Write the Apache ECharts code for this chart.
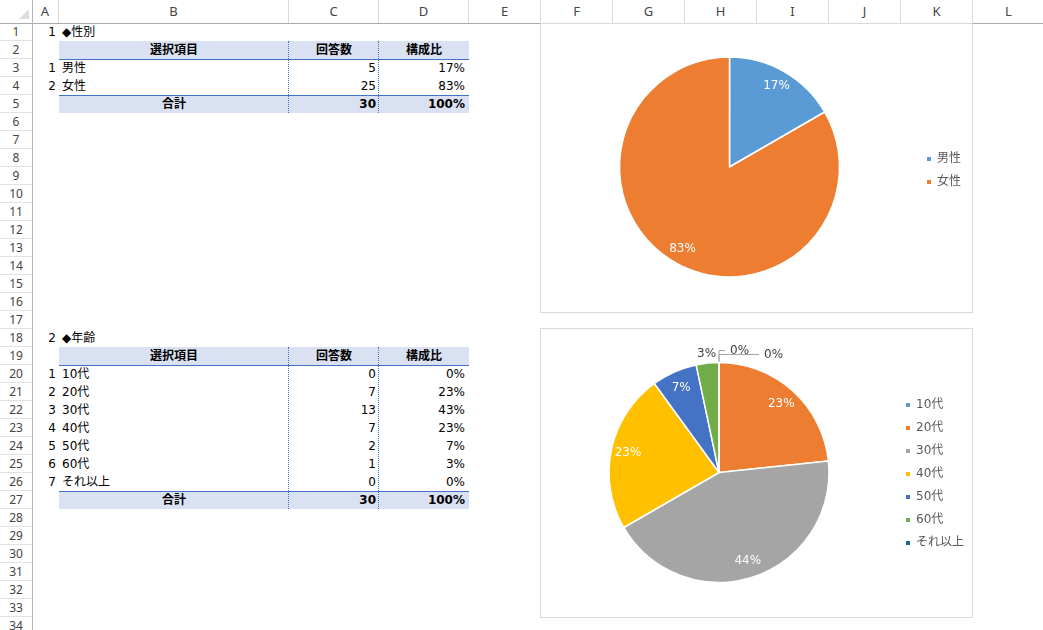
<!DOCTYPE html>
<html>
<head>
<meta charset="utf-8">
<script src="https://cdn.jsdelivr.net/npm/echarts@6/dist/echarts.min.js"></script>
<style>
  html, body { margin:0; padding:0; background:#fff; }
  body { width:1043px; height:630px; position:relative; overflow:hidden;
         font-family:"DejaVu Sans","Noto Sans CJK JP",sans-serif; font-size:12px; color:#000; }
  .abs { position:absolute; box-sizing:border-box; white-space:nowrap; }
  .colh { color:#444; text-align:center; font-family:"Noto Sans","Noto Sans CJK JP",sans-serif; font-size:13px; line-height:23px; height:23px; border-right:1px solid #dadada; top:0; }
  .rowh { color:#444; text-align:center; font-family:"Noto Sans","Noto Sans CJK JP",sans-serif; font-size:12px; line-height:18px; height:18px; left:0; width:32px; border-bottom:1px solid #e1e1e1; }
  .cell { height:18px; line-height:18px; }
  .band { background:#D9E1F2; }
  .chartbox { border:1px solid #d9d9d9; background:#fff; }
</style>
</head>
<body>
<script>
// ---------------- data ----------------
const colLetters = ['A','B','C','D','E','F','G','H','I','J','K','L'];
const rowNumbers = Array.from({length:34}, (_, i) => String(i + 1));
const headerLabels = ['選択項目', '回答数', '構成比'];
const totalLabel = '合計';

const genderTitle = '◆性別';
const genderCategories = ['男性', '女性'];
const genderCounts = [5, 25];

const ageTitle = '◆年齢';
const ageCategories = ['10代', '20代', '30代', '40代', '50代', '60代', 'それ以上'];
const ageCounts = [0, 7, 13, 7, 2, 1, 0];
const ageChartLabels = ['0%', '23%', '44%', '23%', '7%', '3%', '0%'];

const genderColors = ['#5B9BD5', '#ED7D31'];
const ageColors = ['#5B9BD5', '#ED7D31', '#A5A5A5', '#FFC000', '#4472C4', '#70AD47', '#255E91'];

// ---------------- sheet layout ----------------
const colEdges = [32, 59, 289, 379, 469, 541, 613, 685, 757, 829, 901, 973, 1045];
const TOP = 23, RH = 18;
const rowTop = r => TOP + (r - 1) * RH;

function el(cls, style, text) {
  const d = document.createElement('div');
  d.className = 'abs ' + cls;
  Object.assign(d.style, style);
  if (text != null) d.textContent = text;
  document.body.appendChild(d);
  return d;
}

// column headers
colLetters.forEach((c, i) => {
  el('colh', { left: colEdges[i] + 'px', width: (colEdges[i + 1] - colEdges[i]) + 'px' }, c);
});
// corner triangle
el('', { left:'19px', top:'9px', width:'0', height:'0', borderLeft:'10px solid transparent', borderBottom:'10px solid #dcdcdc' });
// row headers
rowNumbers.forEach((n, i) => {
  el('rowh', { top: rowTop(i + 1) + 'px' }, n);
});
el('', { left:'0', top:'23px', width:'1043px', height:'1px', background:'#ababab' });
el('', { left:'32px', top:'0', width:'1px', height:'630px', background:'#b5b5b5' });

function cellText(row, col, text, align, bold) {
  const left = colEdges[col], w = colEdges[col + 1] - colEdges[col];
  const st = { left: left + 'px', top: rowTop(row) + 'px', width: w + 'px', textAlign: align };
  if (align === 'right') st.paddingRight = col === 3 ? '4px' : '3px';
  if (align === 'left') st.paddingLeft = '3px';
  if (bold) st.fontWeight = 'bold';
  el('cell', st, text);
}

function drawTable(startRow, no, title, cats, counts) {
  const total = counts.reduce((a, b) => a + b, 0);
  const nRows = cats.length;
  const hdr = startRow + 1, last = startRow + 1 + nRows + 1;
  el('band', { left:'59px', top: rowTop(hdr) + 'px', width:'410px', height:'18px' });
  el('band', { left:'59px', top: rowTop(last) + 'px', width:'410px', height:'18px' });
  el('', { left:'59px', top: (rowTop(hdr) + 18) + 'px', width:'410px', height:'1px', background:'#4472C4' });
  el('', { left:'59px', top: rowTop(last) + 'px', width:'410px', height:'1px', background:'#4472C4' });
  [288, 378].forEach(x => {
    el('', { left: x + 'px', top: rowTop(hdr) + 'px', width:'1px', height: ((last - hdr + 1) * RH) + 'px', borderLeft:'1px dotted #4472C4' });
  });
  cellText(startRow, 0, String(no), 'right');
  cellText(startRow, 1, title, 'left');
  cellText(hdr, 1, headerLabels[0], 'center', true);
  cellText(hdr, 2, headerLabels[1], 'center', true);
  cellText(hdr, 3, headerLabels[2], 'center', true);
  cats.forEach((c, i) => {
    const r = hdr + 1 + i;
    cellText(r, 0, String(i + 1), 'right');
    cellText(r, 1, c, 'left');
    cellText(r, 2, String(counts[i]), 'right');
    cellText(r, 3, Math.round(counts[i] / total * 100) + '%', 'right');
  });
  cellText(last, 1, totalLabel, 'center', true);
  cellText(last, 2, String(total), 'right', true);
  cellText(last, 3, '100%', 'right', true);
}
drawTable(1, 1, genderTitle, genderCategories, genderCounts);
drawTable(18, 2, ageTitle, ageCategories, ageCounts);

// ---------------- charts ----------------
const box1 = el('chartbox', { left:'540px', top:'23px', width:'433px', height:'290px' });
const box2 = el('chartbox', { left:'540px', top:'328px', width:'433px', height:'290px' });
const c1div = document.createElement('div'); c1div.style.cssText = 'position:absolute;left:0;top:0;width:431px;height:288px;'; box1.appendChild(c1div);
const c2div = document.createElement('div'); c2div.style.cssText = 'position:absolute;left:0;top:0;width:431px;height:288px;'; box2.appendChild(c2div);

const FONT = '"DejaVu Sans", "Noto Sans CJK JP", sans-serif';
const START = 89.99;

function legendOpt(names, left, top) {
  return {
    orient: 'vertical', left: left, top: top, icon: 'rect',
    itemWidth: 6, itemHeight: 6, itemGap: 9, padding: 0,
    textStyle: { color: '#595959', fontSize: 12, lineHeight: 14, fontFamily: FONT },
    data: names
  };
}

// chart 1
const ch1 = echarts.init(c1div, null, { renderer: 'canvas' });
ch1.setOption({
  animation: false,
  textStyle: { fontFamily: FONT },
  legend: legendOpt(genderCategories, 384, 128),
  series: [
    {
      type: 'pie', center: [188.5, 143], radius: 110, startAngle: START, clockwise: true,
      avoidLabelOverlap: false,
      itemStyle: { borderColor: '#fff', borderWidth: 1.5 },
      label: { show: false }, labelLine: { show: false },
      emphasis: { disabled: true },
      data: genderCategories.map((n, i) => ({ name: n, value: genderCounts[i], itemStyle: { color: genderColors[i] } }))
    },
    {
      type: 'pie', silent: true, center: [188.5, 143], radius: [0, 182], startAngle: START, clockwise: true,
      avoidLabelOverlap: false, legendHoverLink: false,
      itemStyle: { color: 'rgba(0,0,0,0)', borderWidth: 0 },
      label: { show: true, position: 'inside', color: '#fff', fontSize: 12, fontFamily: FONT,
               formatter: p => Math.round(p.percent) + '%' },
      labelLine: { show: false },
      emphasis: { disabled: true },
      data: genderCategories.map((n, i) => ({ name: n, value: genderCounts[i] }))
    }
  ]
});

// chart 2
const insideIdx = [1, 2, 3, 4];
const ch2 = echarts.init(c2div, null, { renderer: 'canvas' });
ch2.setOption({
  animation: false,
  textStyle: { fontFamily: FONT },
  legend: legendOpt(ageCategories, 363, 69),
  series: [
    {
      type: 'pie', center: [178, 143.5], radius: 110, startAngle: START, clockwise: true,
      avoidLabelOverlap: false,
      itemStyle: { borderColor: '#fff', borderWidth: 1.5 },
      label: { show: false, fontSize: 12, fontFamily: FONT, color: '#404040' },
      labelLine: { show: false, lineStyle: { color: '#a6a6a6', width: 1 } },
      emphasis: { disabled: true },
      labelLayout: p => (p.dataIndex === 5 ? { align: 'center' } : {}),
      data: ageCategories.map((n, i) => {
        const d = { name: n, value: ageCounts[i], itemStyle: { color: ageColors[i] } };
        if (i === 0) { d.label = { show: true, position: 'outside', formatter: ageChartLabels[i] }; d.labelLine = { show: true, length: 12, length2: 6 }; }
        if (i === 6) { d.label = { show: true, position: 'outside', formatter: ageChartLabels[i] }; d.labelLine = { show: true, length: 8, length2: 40 }; }
        if (i === 5) { d.label = { show: true, position: 'outside', formatter: ageChartLabels[i], distanceToLabelLine: 0 }; d.labelLine = { show: false, length: 9, length2: 0 }; }
        return d;
      })
    },
    {
      type: 'pie', silent: true, center: [178, 143.5], radius: [0, 180], startAngle: START, clockwise: true,
      avoidLabelOverlap: false, legendHoverLink: false,
      itemStyle: { color: 'rgba(0,0,0,0)', borderWidth: 0 },
      label: { show: false, position: 'inside', color: '#fff', fontSize: 12, fontFamily: FONT },
      labelLine: { show: false },
      emphasis: { disabled: true },
      data: ageCategories.map((n, i) => ({
        name: n, value: ageCounts[i],
        label: { show: insideIdx.indexOf(i) >= 0, formatter: ageChartLabels[i] }
      }))
    }
  ]
});
</script>
</body>
</html>
